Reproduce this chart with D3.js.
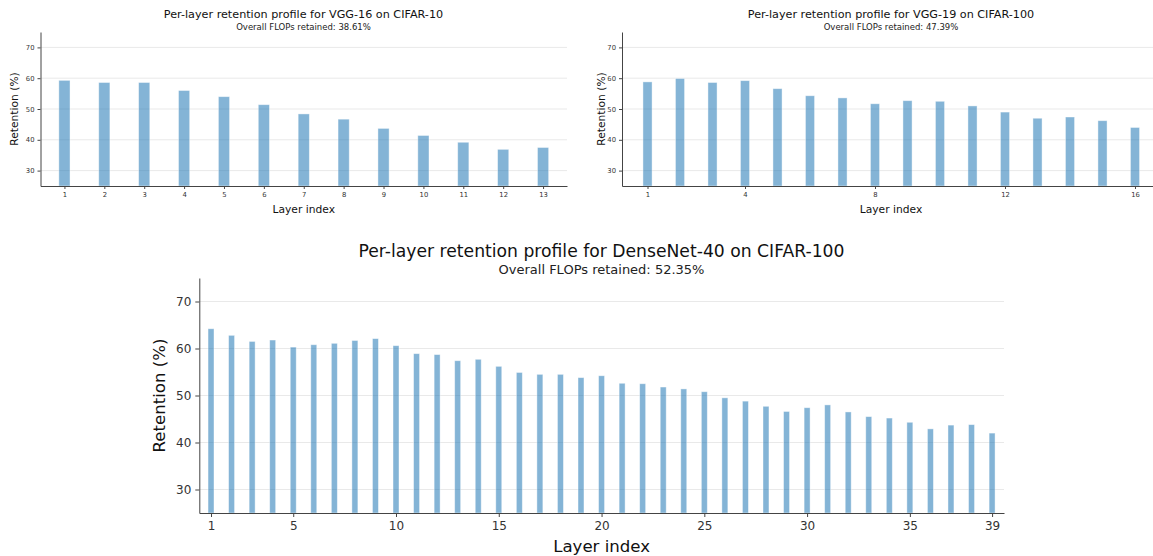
<!DOCTYPE html>
<html>
<head>
<meta charset="utf-8">
<script src="https://cdn.jsdelivr.net/npm/d3@7"></script>
<style>
  body { margin: 0; background: #fff; }
  svg { display: block; font-family: "DejaVu Sans", sans-serif; }
</style>
</head>
<body>
<svg id="chart" width="1153" height="556"></svg>
<script>
// VGG-16 on CIFAR-10
const vgg16Layers = d3.range(1, 14);
const vgg16Retention = [59.3, 58.6, 58.6, 56.0, 54.0, 51.4, 48.4, 46.7, 43.7, 41.4, 39.2, 36.9, 37.5];
const vgg16Ticks = d3.range(1, 14);

// VGG-19 on CIFAR-100
const vgg19Layers = d3.range(1, 17);
const vgg19Retention = [58.8, 59.9, 58.6, 59.2, 56.6, 54.3, 53.6, 51.7, 52.7, 52.5, 51.0, 49.0, 47.0, 47.4, 46.2, 44.0];
const vgg19Ticks = [1, 4, 8, 12, 16];

// DenseNet-40 on CIFAR-100
const densenetLayers = d3.range(1, 40);
const densenetRetention = [
  64.2, 62.8, 61.5, 61.8, 60.3, 60.8, 61.1, 61.7, 62.1, 60.6,
  58.9, 58.7, 57.4, 57.7, 56.2, 54.9, 54.5, 54.5, 53.8, 54.2,
  52.6, 52.5, 51.8, 51.4, 50.8, 49.5, 48.8, 47.7, 46.6, 47.4,
  48.0, 46.5, 45.5, 45.2, 44.3, 42.9, 43.7, 43.8, 42.0
];
const densenetTicks = [1, 5, 10, 15, 20, 25, 30, 35, 39];

const yTicks = [30, 40, 50, 60, 70];

const svg = d3.select("#chart");
const barColor = "#1f77b4";

function drawPanel(p) {
    const x = d3.scaleLinear().domain(p.xDomain).range([p.left, p.right]);
    const y = d3.scaleLinear().domain([25, 75]).range([p.bottom, p.top]);
    const g = svg.append("g");

    // Grid
    g.append("g")
        .selectAll("line")
        .data(yTicks)
        .join("line")
        .attr("x1", p.left)
        .attr("x2", p.right)
        .attr("y1", d => y(d))
        .attr("y2", d => y(d))
        .attr("stroke", "#e9e9e9")
        .attr("stroke-width", 1);

    // Bars
    const bw = x(p.barWidth) - x(0);
    g.append("g")
        .selectAll("rect")
        .data(p.layers)
        .join("rect")
        .attr("x", d => x(d) - bw / 2)
        .attr("y", (d, i) => y(p.values[i]))
        .attr("width", bw)
        .attr("height", (d, i) => y(25) - y(p.values[i]))
        .attr("fill", barColor)
        .attr("fill-opacity", 0.55)
        .attr("stroke", "#ffffff")
        .attr("stroke-opacity", 0.5)
        .attr("stroke-width", 0.8);

    // Axes
    const xAxis = g.append("g")
        .attr("transform", `translate(0,${p.bottom})`)
        .call(d3.axisBottom(x).tickValues(p.ticks).tickSize(p.tickLen).tickSizeOuter(0).tickPadding(p.tickPad));
    const yAxis = g.append("g")
        .attr("transform", `translate(${p.left},0)`)
        .call(d3.axisLeft(y).tickValues(yTicks).tickSize(p.tickLen).tickSizeOuter(0).tickPadding(p.tickPad));

    [xAxis, yAxis].forEach(a => {
        a.select(".domain").attr("stroke", "#444").attr("stroke-width", 1);
        a.selectAll(".tick line").attr("stroke", "#444");
        a.selectAll(".tick text")
            .attr("fill", "#333")
            .style("font-size", p.tickFont + "px")
            .style("font-family", "DejaVu Sans");
    });

    // Titles
    svg.append("text")
        .attr("x", p.titleX)
        .attr("y", p.titleY)
        .attr("text-anchor", "middle")
        .attr("fill", "#111")
        .style("font-size", p.titleFont + "px")
        .text(p.title);
    svg.append("text")
        .attr("x", p.titleX)
        .attr("y", p.subY)
        .attr("text-anchor", "middle")
        .attr("fill", "#222")
        .style("font-size", p.subFont + "px")
        .text(p.subtitle);

    // Axis labels
    svg.append("text")
        .attr("x", (p.left + p.xLabelRight) / 2)
        .attr("y", p.xLabelY)
        .attr("text-anchor", "middle")
        .attr("fill", "#111")
        .style("font-size", p.labelFont + "px")
        .text("Layer index");
    svg.append("text")
        .attr("transform", `translate(${p.yLabelX},${(p.top + p.bottom) / 2}) rotate(-90)`)
        .attr("text-anchor", "middle")
        .attr("fill", "#111")
        .style("font-size", p.labelFont + "px")
        .text("Retention (%)");
}

drawPanel({
    layers: vgg16Layers, values: vgg16Retention, ticks: vgg16Ticks,
    left: 40.5, right: 567, top: 32, bottom: 186, xDomain: [0.4, 13.6], barWidth: 0.28,
    title: "Per-layer retention profile for VGG-16 on CIFAR-10",
    subtitle: "Overall FLOPs retained: 38.61%",
    titleX: 303.5, titleY: 18, subY: 30, titleFont: 11.2, subFont: 8.5,
    xLabelRight: 567, xLabelY: 213, yLabelX: 18, labelFont: 10.7,
    tickFont: 6.8, tickLen: 3, tickPad: 3
});

drawPanel({
    layers: vgg19Layers, values: vgg19Retention, ticks: vgg19Ticks,
    left: 622, right: 1153, top: 32, bottom: 186, xDomain: [0.215, 16.554], barWidth: 0.28,
    title: "Per-layer retention profile for VGG-19 on CIFAR-100",
    subtitle: "Overall FLOPs retained: 47.39%",
    titleX: 891, titleY: 18, subY: 30, titleFont: 11.2, subFont: 8.5,
    xLabelRight: 1160, xLabelY: 213, yLabelX: 605, labelFont: 10.7,
    tickFont: 6.8, tickLen: 3, tickPad: 3
});

drawPanel({
    layers: densenetLayers, values: densenetRetention, ticks: densenetTicks,
    left: 199.3, right: 1004, top: 278, bottom: 513, xDomain: [0.43, 39.58], barWidth: 0.29,
    title: "Per-layer retention profile for DenseNet-40 on CIFAR-100",
    subtitle: "Overall FLOPs retained: 52.35%",
    titleX: 601.5, titleY: 257, subY: 274, titleFont: 17.2, subFont: 13,
    xLabelRight: 1004, xLabelY: 552, yLabelX: 165, labelFont: 16.6,
    tickFont: 12, tickLen: 4, tickPad: 4
});
</script>
</body>
</html>
